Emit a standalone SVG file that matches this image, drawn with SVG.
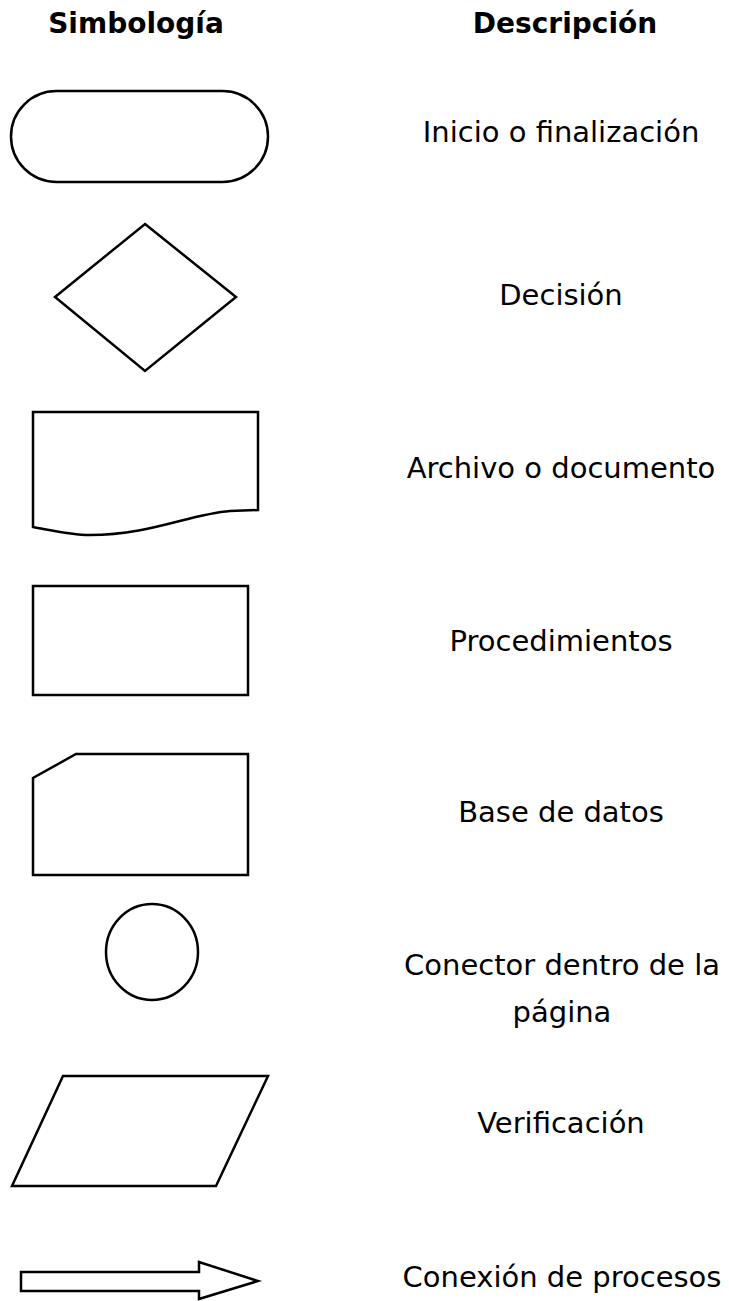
<svg xmlns="http://www.w3.org/2000/svg" width="729" height="1301" viewBox="0 0 729 1301">
<style>
.s{fill:#fff;stroke:#000;stroke-width:2.5;stroke-linejoin:miter}
.h{font-family:"DejaVu Sans",Verdana,sans-serif;font-weight:bold;font-size:28px;text-anchor:middle;fill:#000}
.t{font-family:"DejaVu Sans",Verdana,sans-serif;font-size:29px;text-anchor:middle;fill:#000}
</style>
<rect width="729" height="1301" fill="#fff"/>
<g id="headers">
<text class="h" x="136" y="33">Simbología</text>
<text class="h" x="565" y="33">Descripción</text>
</g>
<g id="terminal">
<rect class="s" x="11" y="91" width="257" height="91" rx="45.5" ry="45.5"/>
<text class="t" x="561" y="142">Inicio o finalización</text>
</g>
<g id="decision">
<polygon class="s" points="145,224 236,297 145,371 55,297"/>
<text class="t" x="561" y="305">Decisión</text>
</g>
<g id="document">
<path class="s" d="M33,412 H258 V510 L230,511 C190,514 150,535 90,535 C70,535 50,530 33,527 Z"/>
<text class="t" x="561" y="478">Archivo o documento</text>
</g>
<g id="process">
<rect class="s" x="33" y="586" width="215" height="109"/>
<text class="t" x="561" y="651">Procedimientos</text>
</g>
<g id="database">
<polygon class="s" points="76,754 248,754 248,875 33,875 33,778"/>
<text class="t" x="561" y="822">Base de datos</text>
</g>
<g id="connector">
<ellipse class="s" cx="152" cy="952" rx="46" ry="48"/>
<text class="t" x="562" y="975">Conector dentro de la</text>
<text class="t" x="562" y="1022">página</text>
</g>
<g id="verification">
<polygon class="s" points="63,1076 268,1076 216,1186 12,1186"/>
<text class="t" x="561" y="1133">Verificación</text>
</g>
<g id="arrow">
<polygon class="s" points="21,1272 199,1272 199,1262 258,1281 199,1299 199,1291 21,1291"/>
<text class="t" x="562" y="1287">Conexión de procesos</text>
</g>
</svg>
